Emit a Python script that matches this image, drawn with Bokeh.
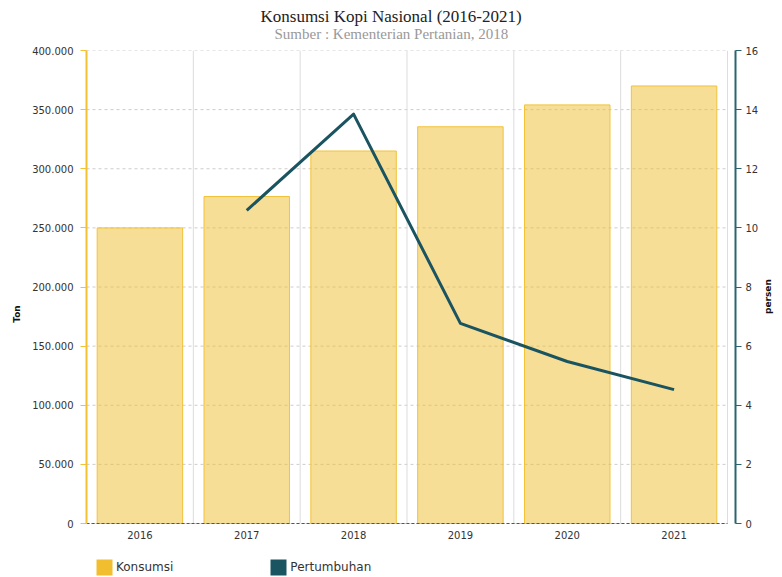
import math
from bokeh.plotting import figure
from bokeh.models import (Range1d, LinearAxis, FixedTicker, Legend, LegendItem, Title,
                          CustomJSTickFormatter, SingleIntervalTicker)
from bokeh.embed import file_html
from bokeh.resources import INLINE

# ---- data ----
years = ["2016", "2017", "2018", "2019", "2020", "2021"]
konsumsi = [250000, 276500, 315000, 335500, 354000, 370000]   # Ton
growth_years = ["2017", "2018", "2019", "2020", "2021"]
pertumbuhan = [10.59, 13.85, 6.77, 5.48, 4.53]                 # persen
ton_ticks = [0, 50000, 100000, 150000, 200000, 250000, 300000, 350000, 400000]

title_text = "Konsumsi Kopi Nasional (2016-2021)"
subtitle_text = "Sumber : Kementerian Pertanian, 2018"

Y_MAX, P_MAX = 400000, 16
idx = list(range(len(years)))
g_idx = [years.index(y) for y in growth_years]

# layout: frame from y=50 (top) to 577 (bottom of window); the value 0 sits at y=523
W, H = 782, 577
PLOT_H, EXTRA = 473, 54
y_lo = -Y_MAX * EXTRA / PLOT_H
p_lo = -P_MAX * EXTRA / PLOT_H
x_lo, x_hi = -0.5, len(years) - 0.5

p = figure(width=W, height=H, output_backend="svg", toolbar_location=None, title=None,
           x_range=Range1d(x_lo, x_hi + 0.075), y_range=Range1d(y_lo, Y_MAX),
           min_border_left=86, min_border_right=47, min_border_top=50, min_border_bottom=0)
p.outline_line_color = None
p.background_fill_color = "white"
p.border_fill_color = "white"
p.extra_y_ranges = {"pct": Range1d(p_lo, P_MAX)}

FONT = "DejaVu Sans"

# grids (drawn only over the category area)
p.xgrid.visible = False
p.ygrid.visible = False
p.segment(x0=[x_lo] * len(ton_ticks), x1=[x_hi] * len(ton_ticks), y0=ton_ticks, y1=ton_ticks,
          line_color="#cccccc", line_width=1, line_dash="3 3", level="underlay")
bounds_x = [i + 0.5 for i in idx]
p.segment(x0=bounds_x, x1=bounds_x, y0=[0] * len(idx), y1=[Y_MAX] * len(idx),
          line_color="#dddddd", line_width=1, level="underlay")

# bars
bars = p.vbar(x=idx, top=konsumsi, width=0.8, fill_color="#F0BE2E", fill_alpha=0.5,
              line_color="#F2C237", line_width=1)
# line
ln = p.line(x=g_idx, y=pertumbuhan, y_range_name="pct", line_color="#1B5461",
            line_width=3, line_join="round")

# x axis (placed at value 0 inside the frame)
xa = p.xaxis[0]
xa.fixed_location = 0
xa.bounds = (x_lo, x_hi)
xa.ticker = FixedTicker(ticks=idx)
xa.major_label_overrides = {i: y for i, y in zip(idx, years)}
xa.axis_line_color = "#555555"
xa.axis_line_dash = "3 2"
xa.major_tick_line_color = None
xa.minor_tick_line_color = None
xa.major_tick_out = 0
xa.major_label_standoff = 7
xa.major_label_text_font = FONT
xa.major_label_text_font_size = "10px"
xa.major_label_text_color = "#333333"

# left axis
ya = p.yaxis[0]
ya.bounds = (0, Y_MAX)
ya.ticker = FixedTicker(ticks=ton_ticks)
ya.formatter = CustomJSTickFormatter(code=r"return tick.toFixed(0).replace(/\B(?=(\d{3})+(?!\d))/g, '.');")
ya.axis_line_color = "#F2C232"
ya.axis_line_width = 2
ya.major_tick_line_color = "#F2C232"
ya.major_tick_out = 6
ya.major_tick_in = 0
ya.minor_tick_line_color = None
ya.major_label_standoff = 7
ya.major_label_text_font = FONT
ya.major_label_text_font_size = "10px"
ya.major_label_text_color = "#333333"
ya.axis_label = "Ton"
ya.axis_label_standoff = 7
ya.axis_label_text_font = FONT
ya.axis_label_text_font_size = "9px"
ya.axis_label_text_font_style = "bold"
ya.axis_label_text_color = "#111111"

# right axis
ra = LinearAxis(y_range_name="pct", ticker=SingleIntervalTicker(interval=2), bounds=(0, P_MAX))
ra.axis_line_color = "#2B6470"
ra.axis_line_width = 2
ra.major_tick_line_color = "#2B6470"
ra.major_tick_out = 6
ra.major_tick_in = 0
ra.minor_tick_line_color = None
ra.major_label_standoff = 4
ra.major_label_text_font = FONT
ra.major_label_text_font_size = "10px"
ra.major_label_text_color = "#333333"
ra.axis_label = "persen"
ra.axis_label_standoff = 7
ra.axis_label_text_font = FONT
ra.axis_label_text_font_size = "9px"
ra.axis_label_text_font_style = "bold"
ra.axis_label_text_color = "#111111"
try:
    ra.axis_label_orientation = math.pi / 2
except Exception:
    pass
p.add_layout(ra, "right")

# titles
sub = Title(text=subtitle_text, align="left", offset=188, standoff=18,
            text_font="Liberation Serif", text_font_size="15px", text_font_style="normal",
            text_color="#999999")
main = Title(text=title_text, align="left", offset=174,
             text_font="Liberation Serif", text_font_size="17px", text_font_style="normal",
             text_color="#222222")
try:
    main.standoff = -22
except Exception:
    main.standoff = 0
p.add_layout(sub, "above")
p.add_layout(main, "above")

# legend: zero-height helper bars only carry the legend colours
lk = p.vbar(x=idx[:1], top=[0], bottom=[0], width=0.8, fill_color="#F0BE2E", line_alpha=0)
lp = p.vbar(x=idx[:1], top=[0], bottom=[0], width=0.8, fill_color="#1B5461", line_alpha=0)
legend = Legend(items=[LegendItem(label="Konsumsi", renderers=[lk]),
                       LegendItem(label="Pertumbuhan", renderers=[lp])],
                location=(8, 0), orientation="horizontal", padding=0, margin=0,
                spacing=95, glyph_width=20, glyph_height=20, label_standoff=2,
                label_text_font=FONT, label_text_font_size="12px", label_text_color="#333333",
                border_line_color=None, background_fill_alpha=0)
p.add_layout(legend, "center")

open("out.html", "w").write(file_html(p, INLINE))
